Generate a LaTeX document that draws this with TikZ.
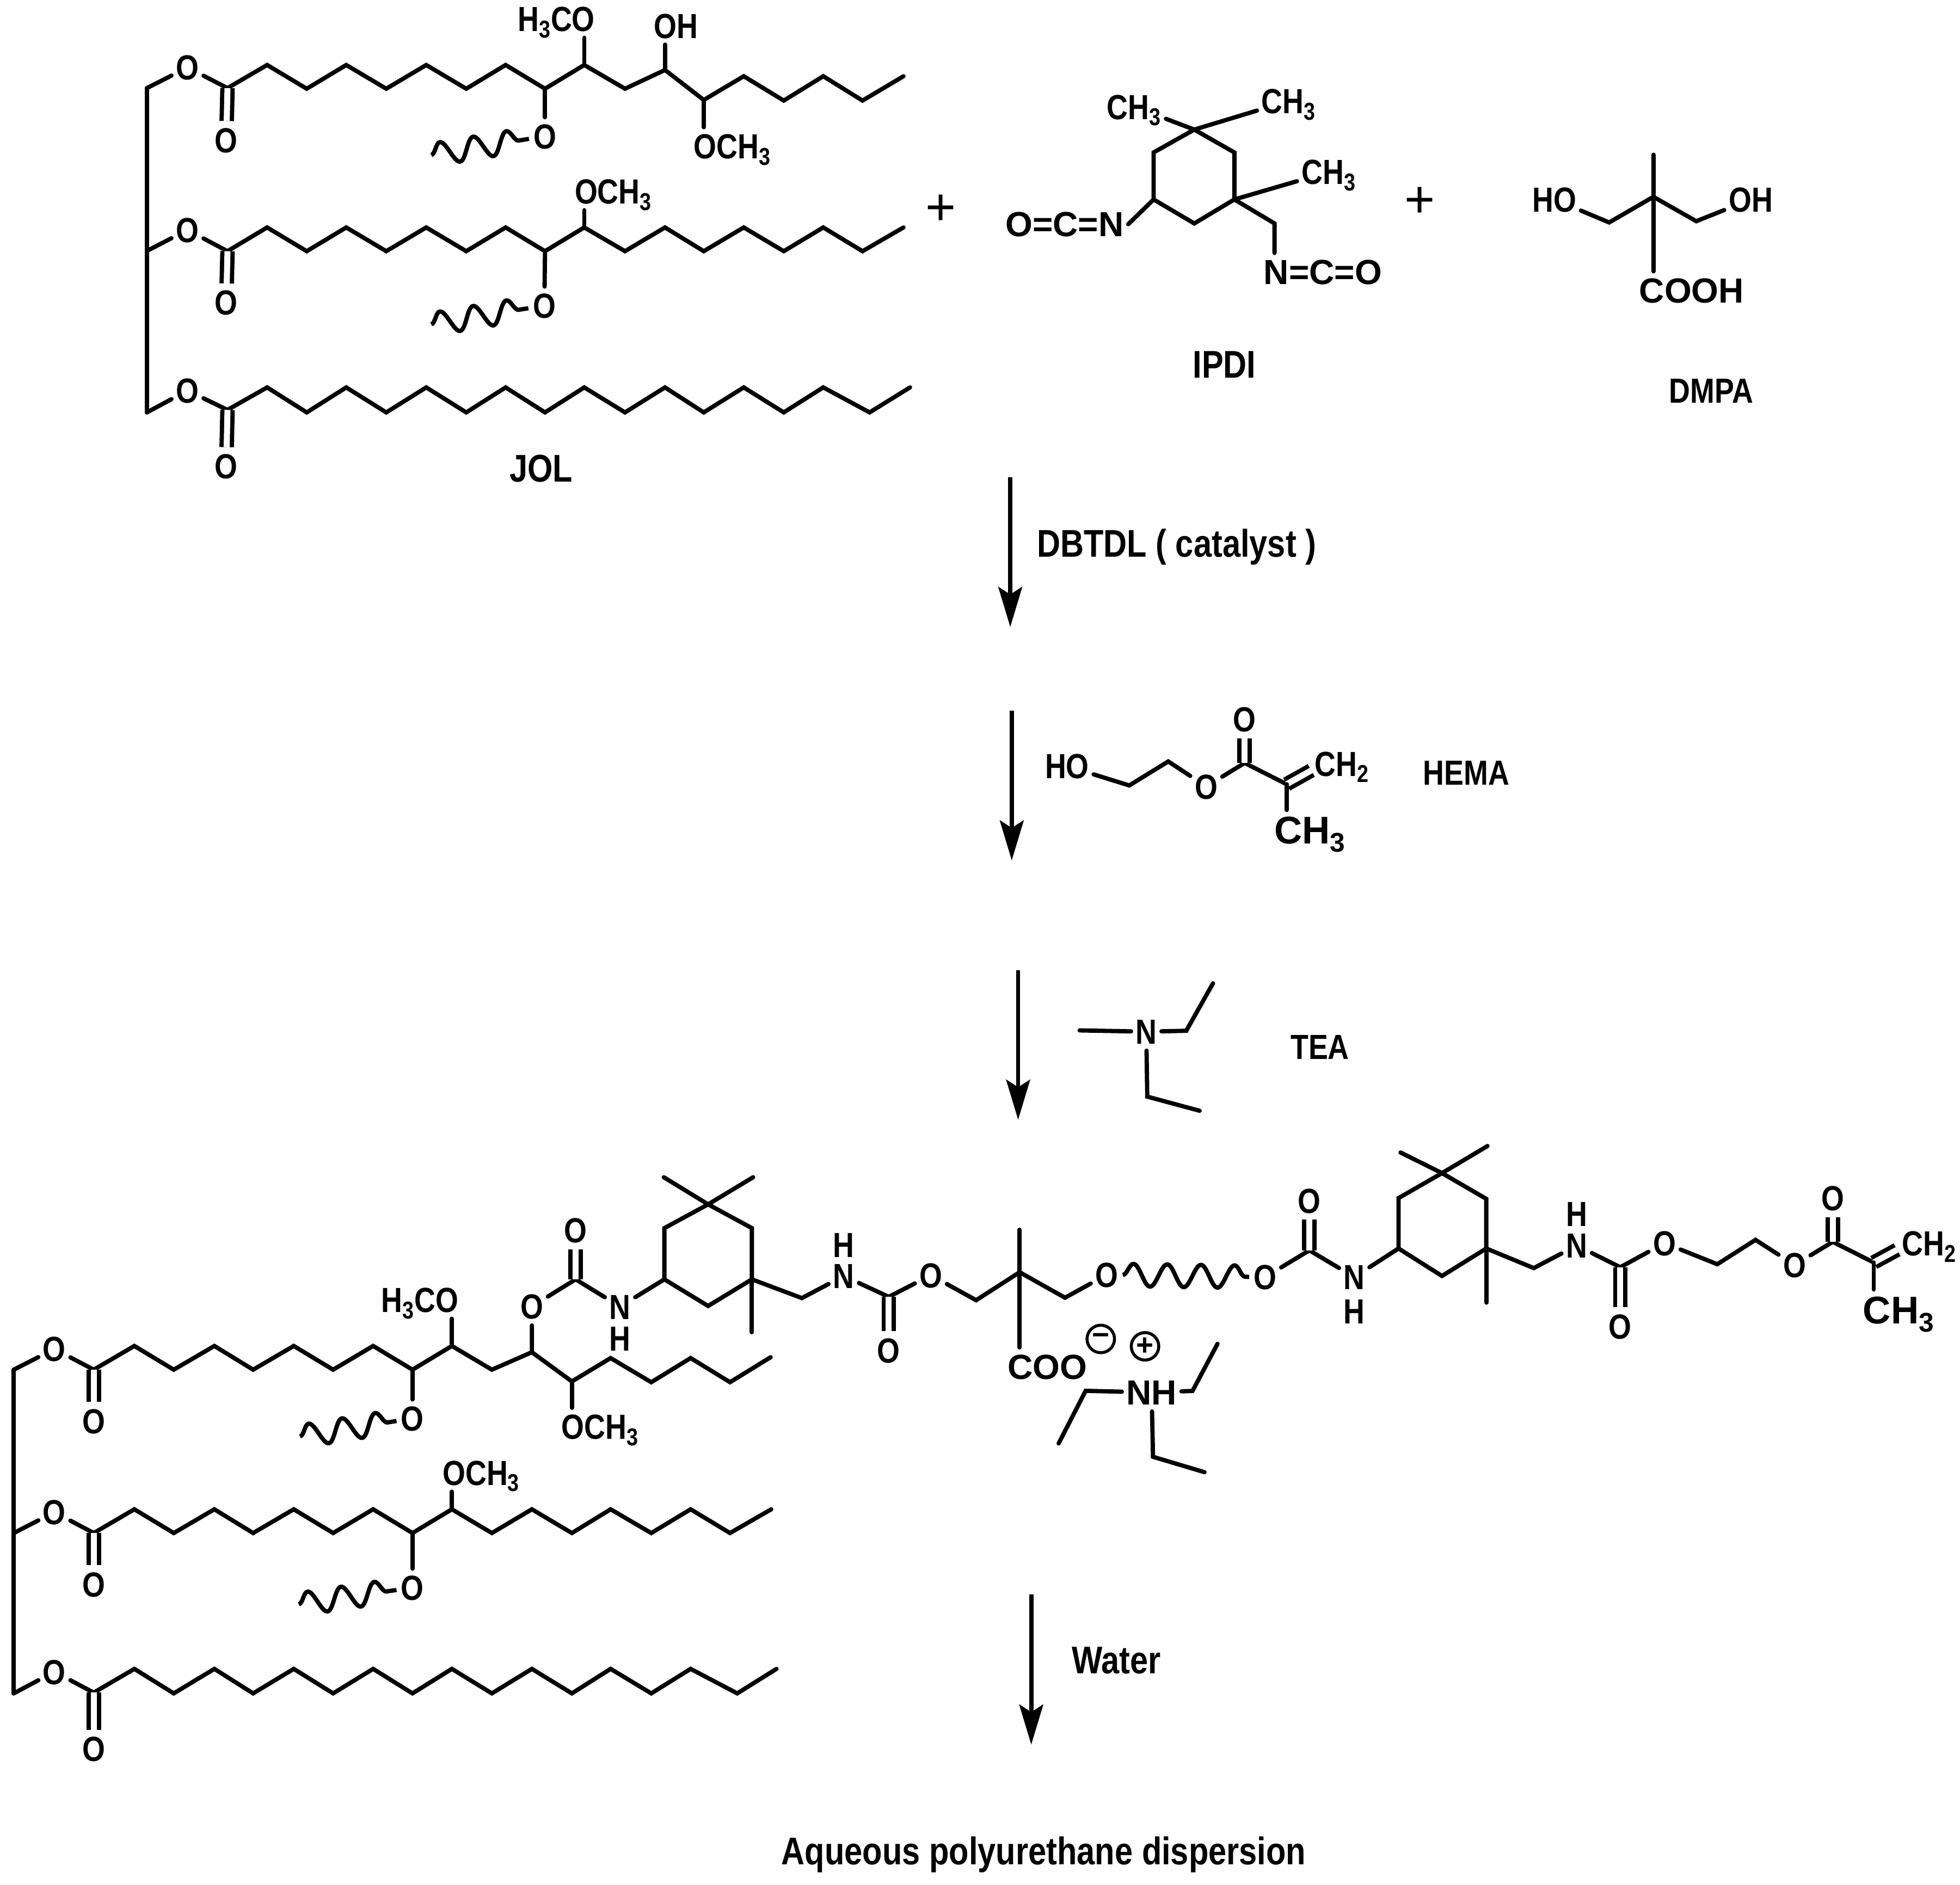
\documentclass[tikz,border=0pt]{standalone}
\usepackage{fontspec}
\setmainfont[FakeStretch=0.84]{Liberation Sans}
\newfontfamily\widefont{Liberation Sans}
\usetikzlibrary{arrows.meta,decorations.pathmorphing}
\begin{document}
\begin{tikzpicture}[x=1bp,y=-1bp,
	bond/.style={line width=3.4bp,line cap=round,line join=miter},
	dbl/.style={line width=3.4bp,double,double distance=4.8bp},
	wavy/.style={line width=3.4bp,decorate,decoration={snake,segment length=27bp,amplitude=9bp}},
	rxn/.style={line width=3.4bp,-{Stealth[length=32bp,width=19bp,inset=6bp]}},
	atom/.style={font=\fontsize{28}{30}\selectfont\bfseries,text height=20bp,text depth=0bp,inner xsep=3.5bp,inner ysep=5bp},
	wide/.style={font=\fontsize{28}{30}\selectfont\widefont\bfseries,text height=20bp,text depth=0bp,inner xsep=3.5bp,inner ysep=5bp},
	big/.style={font=\fontsize{31}{33}\selectfont\widefont\bfseries,text height=22bp,text depth=0bp,inner xsep=3.5bp,inner ysep=5bp},
	heading/.style={font=\fontsize{31}{33}\selectfont\bfseries,text height=22bp,text depth=0bp},
	reagent/.style={font=\fontsize{28}{30}\selectfont\bfseries,text height=20bp,text depth=0bp},
	plussign/.style={font=\fontsize{42}{44}\selectfont\widefont},
	chg/.style={draw,circle,line width=2.4bp,minimum size=22bp,inner sep=0bp,font=\fontsize{24}{24}\selectfont\widefont\bfseries}]
	\useasboundingbox (0,0) rectangle (1568,1508);
	% JOL
	\coordinate (ga) at (117.5,70.5);
	\coordinate (gb) at (117.5,200.8);
	\coordinate (gc) at (117.5,330);
	\node (Oa) at (150,54) [atom] {O};
	\node (Ob) at (150,184) [atom] {O};
	\node (Oc) at (150,312.5) [atom] {O};
	\node (Oad) at (181,112) [atom] {O};
	\node (Obd) at (181,242) [atom] {O};
	\node (Ocd) at (181,373) [atom] {O};
	\coordinate (a0) at (182,70.5); \coordinate (a1) at (213.7,52); \coordinate (a2) at (245.4,71);
	\coordinate (a3) at (277,52); \coordinate (a4) at (309,71); \coordinate (a5) at (341,52);
	\coordinate (a6) at (373,71); \coordinate (a7) at (404.5,52); \coordinate (a8) at (436,71);
	\coordinate (a9) at (467.4,52); \coordinate (a10) at (500,71); \coordinate (a11) at (532,56);
	\coordinate (a12) at (563,80); \coordinate (a13) at (595,61); \coordinate (a14) at (627,80.5);
	\coordinate (a15) at (658.6,61); \coordinate (a16) at (690,80.5); \coordinate (a17) at (722.8,61);
	\coordinate (b0) at (182,201); \coordinate (b1) at (213.7,182); \coordinate (b2) at (245.4,201);
	\coordinate (b3) at (277,182); \coordinate (b4) at (309,201); \coordinate (b5) at (341,182);
	\coordinate (b6) at (373,201); \coordinate (b7) at (404.5,182); \coordinate (b8) at (436,201);
	\coordinate (b9) at (467.4,182); \coordinate (b10) at (500,201); \coordinate (b11) at (532,182);
	\coordinate (b12) at (563,201); \coordinate (b13) at (595,182); \coordinate (b14) at (627,201);
	\coordinate (b15) at (658.6,182); \coordinate (b16) at (690,201); \coordinate (b17) at (722.8,182);
	\coordinate (c0) at (182,328); \coordinate (c1) at (213.7,310); \coordinate (c2) at (245.4,330);
	\coordinate (c3) at (277,310); \coordinate (c4) at (309,330); \coordinate (c5) at (341,310);
	\coordinate (c6) at (373,330); \coordinate (c7) at (404.5,310); \coordinate (c8) at (436,330);
	\coordinate (c9) at (467.4,310); \coordinate (c10) at (500,330); \coordinate (c11) at (532,310);
	\coordinate (c12) at (563,330); \coordinate (c13) at (595,310); \coordinate (c14) at (627,330);
	\coordinate (c15) at (658.6,310); \coordinate (c16) at (695.7,330); \coordinate (c17) at (728,310);
	\node (H3COa) at (445,15) [atom] {H\textsubscript{3}CO};
	\node (OHa) at (540.7,20.5) [atom] {OH};
	\node (OCH3a) at (586,117) [atom] {OCH\textsubscript{3}};
	\node (OCH3b) at (490.7,153) [atom] {OCH\textsubscript{3}};
	\node (Oe) at (436,109) [atom] {O};
	\node (Of) at (435.5,244.5) [atom] {O};
	\coordinate (wa) at (345,124);
	\coordinate (wb) at (345,259.5);
	\node (JOL) at (433,374.5) [heading] {JOL};
	\draw [bond] (ga) -- (gb) -- (gc);
	\draw [bond] (ga) -- (Oa) -- (a0) -- (a1) -- (a2) -- (a3) -- (a4) -- (a5) -- (a6) -- (a7) -- (a8) -- (a9) -- (a10) -- (a11) -- (a12) -- (a13) -- (a14) -- (a15) -- (a16) -- (a17);
	\draw [bond] (gb) -- (Ob) -- (b0) -- (b1) -- (b2) -- (b3) -- (b4) -- (b5) -- (b6) -- (b7) -- (b8) -- (b9) -- (b10) -- (b11) -- (b12) -- (b13) -- (b14) -- (b15) -- (b16) -- (b17);
	\draw [bond] (gc) -- (Oc) -- (c0) -- (c1) -- (c2) -- (c3) -- (c4) -- (c5) -- (c6) -- (c7) -- (c8) -- (c9) -- (c10) -- (c11) -- (c12) -- (c13) -- (c14) -- (c15) -- (c16) -- (c17);
	\draw [dbl] (a0) -- (Oad);
	\draw [dbl] (b0) -- (Obd);
	\draw [dbl] (c0) -- (Ocd);
	\draw [bond] (a8) -- (Oe);
	\draw [bond] (b8) -- (Of);
	\draw [bond] (a9) -- (a9 |- H3COa.south);
	\draw [bond] (a11) -- (a11 |- OHa.south);
	\draw [bond] (a12) -- (a12 |- OCH3a.north);
	\draw [bond] (b9) -- (b9 |- OCH3b.south);
	\draw [wavy] (wa) -- (Oe);
	\draw [wavy] (wb) -- (Of);
	\node (plusa) at (752.5,168) [plussign] {+};
	% IPDI
	\coordinate (r1) at (955.4,103.7); \coordinate (r2) at (987.5,122); \coordinate (r3) at (987.5,159.6);
	\coordinate (r4) at (955.4,178.8); \coordinate (r5) at (922.9,159.6); \coordinate (r6) at (922.9,122);
	\coordinate (r7) at (1019.6,178.8);
	\node (CH3a) at (907.3,85.4) [atom] {CH\textsubscript{3}};
	\node (CH3b) at (1031,80.8) [atom] {CH\textsubscript{3}};
	\node (CH3c) at (1063,137.6) [atom] {CH\textsubscript{3}};
	\node (OCNa) at (851.6,179.4) [wide] {O=C=N};
	\node (NCOa) at (1058.3,217.6) [wide] {N=C=O};
	\node (IPDI) at (979.5,291.6) [heading] {IPDI};
	\draw [bond] (r1) -- (r2) -- (r3) -- (r4) -- (r5) -- (r6) -- cycle;
	\draw [bond] (r1) -- (CH3a);
	\draw [bond] (r1) -- (CH3b);
	\draw [bond] (r3) -- (CH3c);
	\draw [bond] (r5) -- (OCNa.east);
	\draw [bond] (r3) -- (r7) -- (r7 |- NCOa.north);
	\node (plusb) at (1136,162) [plussign] {+};
	% DMPA
	\coordinate (m0) at (1322.7,157.5); \coordinate (m1) at (1322.7,123.8);
	\coordinate (m2) at (1287.3,178); \coordinate (m3) at (1357,177);
	\node (HOa) at (1243.4,159.6) [atom] {HO};
	\node (OHb) at (1400.6,159.6) [atom] {OH};
	\node (COOH) at (1353.3,232.3) [wide] {COOH};
	\node (DMPA) at (1369,312.3) [reagent] {DMPA};
	\draw [bond] (m1) -- (m0) -- (m0 |- COOH.north);
	\draw [bond] (HOa) -- (m2) -- (m0) -- (m3) -- (OHb);
	% steps
	\coordinate (s1) at (808.2,382); \coordinate (e1) at (808.2,501.7);
	\coordinate (s2) at (809.4,568.5); \coordinate (e2) at (809.4,688.5);
	\coordinate (s3) at (814.5,776.3); \coordinate (e3) at (814.5,896);
	\coordinate (s4) at (825,1276); \coordinate (e4) at (825,1396);
	\draw [rxn] (s1) -- (e1);
	\draw [rxn] (s2) -- (e2);
	\draw [rxn] (s3) -- (e3);
	\draw [rxn] (s4) -- (e4);
	\node (DBTDL) at (941.3,434.5) [heading] {DBTDL ( catalyst )};
	\node (Water) at (893,1328) [heading] {Water};
	\node (Aqueous) at (835,1481) [heading] {Aqueous polyurethane dispersion};
	% HEMA
	\coordinate (h2) at (903.4,628.5); \coordinate (h3) at (934.6,609.3);
	\coordinate (h4) at (995.7,610.5); \coordinate (h5) at (1029.3,627.5); \coordinate (h6) at (1049,616.5);
	\node (HOb) at (853.6,613) [atom] {HO};
	\node (Og) at (965,629.3) [atom] {O};
	\node (Ogd) at (995.7,575.5) [atom] {O};
	\node (CH2a) at (1073.6,611) [atom] {CH\textsubscript{2}};
	\node (CH3d) at (1048,664.3) [big] {CH\textsubscript{3}};
	\node (HEMA) at (1173,618) [reagent] {HEMA};
	\draw [bond] (HOb) -- (h2) -- (h3) -- (Og) -- (h4) -- (h5);
	\draw [dbl] (h4) -- (Ogd);
	\draw [dbl] (h5) -- (h6);
	\draw [bond] (h5) -- (h5 |- CH3d.north);
	% TEA
	\node (Na) at (917,825.5) [atom] {N};
	\node (TEA) at (1055.9,837.6) [reagent] {TEA};
	\coordinate (t1) at (863.7,824.5); \coordinate (t2) at (949,824.8); \coordinate (t3) at (970.4,786.8);
	\coordinate (t4) at (917.8,877.5); \coordinate (t5) at (959.7,888.8);
	\draw [bond] (t1) -- (Na);
	\draw [bond] (Na) -- (t2) -- (t3);
	\draw [bond] (Na) -- (t4) -- (t5);
	% product, oil part
	\coordinate (gd) at (11,1096); \coordinate (ge) at (11,1226.7); \coordinate (gf) at (11,1355);
	\node (Od) at (43.5,1079.4) [atom] {O};
	\node (Oh) at (43.5,1210) [atom] {O};
	\node (Oi) at (43.5,1337.7) [atom] {O};
	\node (Odd) at (75,1137) [atom] {O};
	\node (Ohd) at (75,1267.7) [atom] {O};
	\node (Oid) at (75,1399.4) [atom] {O};
	\coordinate (d0) at (75,1096); \coordinate (d1) at (107.5,1077); \coordinate (d2) at (139,1096);
	\coordinate (d3) at (171.5,1077); \coordinate (d4) at (202.5,1096); \coordinate (d5) at (235,1077);
	\coordinate (d6) at (266.5,1096); \coordinate (d7) at (298.5,1077); \coordinate (d8) at (330,1096);
	\coordinate (d9) at (361.5,1077); \coordinate (d10) at (393.5,1096); \coordinate (d11) at (425.5,1082);
	\coordinate (d12) at (457.5,1105.4); \coordinate (d13) at (488.5,1086.7); \coordinate (d14) at (521,1106);
	\coordinate (d15) at (552.5,1086.7); \coordinate (d16) at (584,1106); \coordinate (d17) at (616.5,1086);
	\coordinate (f10) at (75,1226.7); \coordinate (f11) at (107.5,1207.7); \coordinate (f12) at (139,1226.7);
	\coordinate (f13) at (171.5,1207.7); \coordinate (f14) at (202.5,1226.7); \coordinate (f15) at (235,1207.7);
	\coordinate (f16) at (266.5,1226.7); \coordinate (f17) at (298.5,1207.7); \coordinate (f18) at (330,1226.7);
	\coordinate (f19) at (361.5,1207.7); \coordinate (f20) at (393.5,1226.7); \coordinate (f21) at (425.5,1207.7);
	\coordinate (f22) at (457.5,1226.7); \coordinate (f23) at (488.5,1207.7); \coordinate (f24) at (521,1226.7);
	\coordinate (f25) at (552.5,1207.7); \coordinate (f26) at (584,1226.7); \coordinate (f27) at (617,1207.7);
	\coordinate (i0) at (75,1354.4); \coordinate (i1) at (107.5,1335.4); \coordinate (i2) at (139,1355);
	\coordinate (i3) at (171.5,1335.4); \coordinate (i4) at (202.5,1355); \coordinate (i5) at (235,1335.4);
	\coordinate (i6) at (266.5,1355); \coordinate (i7) at (298.5,1335.4); \coordinate (i8) at (330,1355);
	\coordinate (i9) at (361.5,1335.4); \coordinate (i10) at (393.5,1355); \coordinate (i11) at (425.5,1335.4);
	\coordinate (i12) at (457.5,1355); \coordinate (i13) at (488.5,1335.4); \coordinate (i14) at (521,1355);
	\coordinate (i15) at (552.5,1335.4); \coordinate (i16) at (589.8,1355); \coordinate (i17) at (621.2,1335.4);
	\node (H3COb) at (336,1040) [atom] {H\textsubscript{3}CO};
	\node (OCH3c) at (480,1141.7) [atom] {OCH\textsubscript{3}};
	\node (OCH3d) at (385,1178.4) [atom] {OCH\textsubscript{3}};
	\node (Oj) at (330,1135) [atom] {O};
	\node (Ok) at (330,1270.4) [atom] {O};
	\coordinate (wd) at (240,1149.4);
	\coordinate (we) at (239,1283.7);
	\draw [bond] (gd) -- (ge) -- (gf);
	\draw [bond] (gd) -- (Od) -- (d0) -- (d1) -- (d2) -- (d3) -- (d4) -- (d5) -- (d6) -- (d7) -- (d8) -- (d9) -- (d10) -- (d11) -- (d12) -- (d13) -- (d14) -- (d15) -- (d16) -- (d17);
	\draw [bond] (ge) -- (Oh) -- (f10) -- (f11) -- (f12) -- (f13) -- (f14) -- (f15) -- (f16) -- (f17) -- (f18) -- (f19) -- (f20) -- (f21) -- (f22) -- (f23) -- (f24) -- (f25) -- (f26) -- (f27);
	\draw [bond] (gf) -- (Oi) -- (i0) -- (i1) -- (i2) -- (i3) -- (i4) -- (i5) -- (i6) -- (i7) -- (i8) -- (i9) -- (i10) -- (i11) -- (i12) -- (i13) -- (i14) -- (i15) -- (i16) -- (i17);
	\draw [dbl] (d0) -- (Odd);
	\draw [dbl] (f10) -- (Ohd);
	\draw [dbl] (i0) -- (Oid);
	\draw [bond] (d8) -- (Oj);
	\draw [bond] (f18) -- (Ok);
	\draw [bond] (d9) -- (d9 |- H3COb.south);
	\draw [bond] (d12) -- (d12 |- OCH3c.north);
	\draw [bond] (f19) -- (f19 |- OCH3d.south);
	\draw [wavy] (wd) -- (Oj);
	\draw [wavy] (we) -- (Ok);
	% product, left urethane and ring
	\node (Ol) at (425.5,1045.4) [atom] {O};
	\node (Old) at (460.5,984.4) [atom] {O};
	\node (Nb) at (496,1045.5) [atom] {N};
	\node (Hb) at (496,1071) [atom] {H};
	\node (Nc) at (675,1021) [atom] {N};
	\node (Hc) at (675,996) [atom] {H};
	\node (Om) at (744.7,1020.4) [atom] {O};
	\node (Omd) at (711,1080.4) [atom] {O};
	\coordinate (u1) at (460.5,1023.7); \coordinate (u2) at (711,1037.7); \coordinate (u3) at (641.5,1038.7);
	\coordinate (q1) at (531.5,1023.7); \coordinate (q2) at (531.5,982.7); \coordinate (q3) at (566.5,963.7);
	\coordinate (q4) at (601.5,982.7); \coordinate (q5) at (601.5,1023.7); \coordinate (q6) at (566.5,1045);
	\coordinate (q7) at (531,942); \coordinate (q8) at (602.5,942); \coordinate (q9) at (601.5,1066);
	\draw [bond] (d11) -- (Ol) -- (u1) -- (Nb) -- (q1);
	\draw [dbl] (u1) -- (Old);
	\draw [bond] (q1) -- (q2) -- (q3) -- (q4) -- (q5) -- (q6) -- cycle;
	\draw [bond] (q7) -- (q3) -- (q8);
	\draw [bond] (q5) -- (q9);
	\draw [bond] (q5) -- (u3) -- (Nc) -- (u2) -- (Om);
	\draw [dbl] (u2) -- (Omd);
	% product, centre
	\coordinate (k0) at (815.7,1018); \coordinate (k1) at (815.7,984);
	\coordinate (k2) at (780.9,1040.4); \coordinate (k3) at (852,1038.4);
	\node (On) at (885.4,1020) [atom] {O};
	\node (COO) at (837.9,1093.4) [wide] {COO};
	\node (minus) at (880.6,1071.4) [chg] {−};
	\node (plusc) at (916,1077.3) [chg] {+};
	\node (NH) at (921.3,1114.2) [wide] {NH};
	\coordinate (n1) at (868.5,1112.9); \coordinate (n2) at (846.9,1155);
	\coordinate (n3) at (954,1113); \coordinate (n4) at (974,1075.3);
	\coordinate (n5) at (922.4,1165.7); \coordinate (n6) at (963.6,1178);
	\draw [bond] (k1) -- (k0) -- (k0 |- COO.north);
	\draw [bond] (Om) -- (k2) -- (k0) -- (k3) -- (On);
	\draw [bond] (NH) -- (n1) -- (n2);
	\draw [bond] (NH) -- (n3) -- (n4);
	\draw [bond] (NH) -- (n5) -- (n6);
	% product, right urethane and ring
	\node (Oo) at (1012.1,1021.9) [atom] {O};
	\node (Opd) at (1047.5,960.6) [atom] {O};
	\node (Nd) at (1083.4,1021.9) [atom] {N};
	\node (Hd) at (1083.4,1049) [atom] {H};
	\node (Ne) at (1261.3,996.6) [atom] {N};
	\node (He) at (1261.3,971.3) [atom] {H};
	\node (Oq) at (1331.6,994.7) [atom] {O};
	\node (Oqd) at (1296.2,1061.3) [atom] {O};
	\node (Or) at (1435.6,1012.2) [atom] {O};
	\node (Ord) at (1466.2,958.7) [atom] {O};
	\node (CH2b) at (1543.5,994.7) [atom] {CH\textsubscript{2}};
	\node (CH3e) at (1519,1048) [big] {CH\textsubscript{3}};
	\coordinate (v1) at (1047.5,1000.5); \coordinate (v2) at (1296.2,1014); \coordinate (v3) at (1227,1014.7);
	\coordinate (p1) at (1118.8,999); \coordinate (p2) at (1118.8,958.7); \coordinate (p3) at (1153.6,938.7);
	\coordinate (p4) at (1189,959.3); \coordinate (p5) at (1189,999); \coordinate (p6) at (1153.6,1021);
	\coordinate (p7) at (1120.4,922.2); \coordinate (p8) at (1190,917); \coordinate (p9) at (1189,1042.3);
	\coordinate (w1) at (1373.8,1011.6); \coordinate (w2) at (1404.4,992.1); \coordinate (w3) at (1466.2,993.7);
	\coordinate (w4) at (1499,1010.2); \coordinate (w5) at (1517.7,1000);
	\draw [wavy] (On) -- (Oo);
	\draw [bond] (Oo) -- (v1) -- (Nd) -- (p1);
	\draw [dbl] (v1) -- (Opd);
	\draw [bond] (p1) -- (p2) -- (p3) -- (p4) -- (p5) -- (p6) -- cycle;
	\draw [bond] (p7) -- (p3) -- (p8);
	\draw [bond] (p5) -- (p9);
	\draw [bond] (p5) -- (v3) -- (Ne) -- (v2) -- (Oq) -- (w1) -- (w2) -- (Or) -- (w3) -- (w4);
	\draw [dbl] (v2) -- (Oqd);
	\draw [dbl] (w3) -- (Ord);
	\draw [dbl] (w4) -- (w5);
	\draw [bond] (w4) -- (w4 |- CH3e.north);
\end{tikzpicture}
\end{document}
